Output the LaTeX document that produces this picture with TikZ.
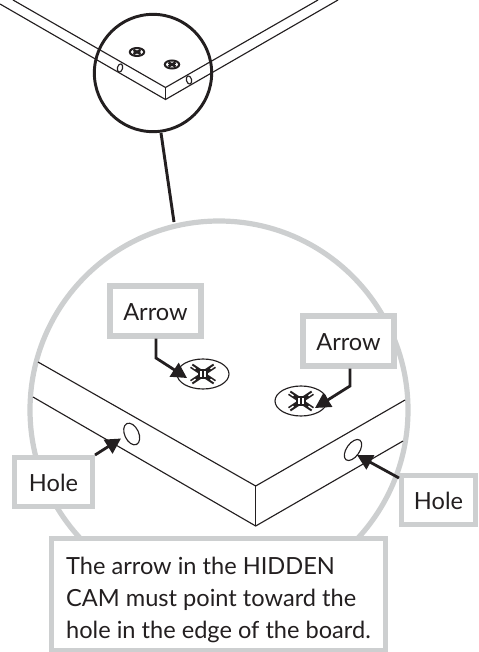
\documentclass[tikz,border=0pt]{standalone}
\usepackage{fontspec}
\setmainfont{Lato}
\usetikzlibrary{arrows.meta}
\definecolor{framegray}{HTML}{CDCFD0}
\definecolor{inkblack}{HTML}{231F20}
\tikzset{
  x=0.75pt,y=-0.75pt,
  boardline/.style={draw=inkblack,line width=0.85pt},
  labelbox/.style={draw=framegray,fill=white,line width=3.9pt,inner sep=0pt,text=inkblack,font=\fontsize{17.7}{24}\selectfont},
  shortlabel/.style={labelbox,text height=15pt},
  leader/.style={draw=inkblack,line width=2.1pt,-{Triangle[length=11.5pt,width=12pt]}},
  screw/.pic={
    \draw[boardline,fill=white] (0,0) ellipse (26 and 15);
    \foreach \sx in {-1,1}\foreach \sy in {-1,1}{
      \draw[inkblack,line width=3.8pt] (\sx*3,\sy*2.5) -- (\sx*11.5,\sy*8.2);
      \draw[white,line width=1pt] (\sx*7.5,\sy*5.2) -- (\sx*14,\sy*9.6);
    }
    \fill[inkblack] (-4.6,-4.6) rectangle (4.6,4.6);
    \fill[white] (-3,-3) rectangle (3,3);
    \draw[inkblack,line width=0.9pt] (0,-3) -- (0,3);
  },
  smallscrew/.pic={
    \draw[inkblack,line width=1.5pt,fill=white] (0,0) ellipse (7.2 and 4);
    \draw[inkblack,line width=1.9pt] (-3.5,-2) -- (3.5,2) (-3.5,2) -- (3.5,-2);
  }
}
\begin{document}
\begin{tikzpicture}
\useasboundingbox (0,0) rectangle (478,652);
% overview board
\draw[boardline] (13,0) -- (165.5,87.5) -- (318,0);
\draw[boardline] (0,4) -- (165.5,99.5) -- (338,0);
\draw[boardline] (165.5,87.5) -- (165.5,99.5);
\draw[boardline] (120,68) ellipse[x radius=2.6,y radius=4.2,rotate=-15];
\draw[boardline] (189,80) ellipse[x radius=2.6,y radius=4.2,rotate=15];
\pic at (137,52) {smallscrew};
\pic at (172,64.5) {smallscrew};
% detail circles
\node[circle,draw=inkblack,line width=2.2pt,minimum size=88pt,inner sep=0pt] (lens) at (153,73) {};
\coordinate (bigtop) at (174,222);
\draw[draw=framegray,line width=3.9pt] (219,410) circle (189);
\draw[inkblack,line width=2.2pt] (161,133) -- (bigtop);
% enlarged board
\draw[boardline] (38,362) -- (255.7,486) -- (405,400);
\draw[boardline] (33,397) -- (255.7,526) -- (403,441);
\draw[boardline] (255.7,486) -- (255.7,526);
\draw[boardline] (131.7,434) ellipse[x radius=7,y radius=11.5,rotate=25];
\draw[boardline] (353,450) ellipse[x radius=6.5,y radius=12,rotate=-35];
\pic at (203,374) {screw};
\pic at (301,401) {screw};
% labels
\node[shortlabel,minimum width=68.25pt,minimum height=37.5pt] (arrowa) at (155.5,311) {Arrow};
\node[shortlabel,minimum width=68.25pt,minimum height=37.5pt] (arrowb) at (348.5,341) {Arrow};
\node[shortlabel,minimum width=58.5pt,minimum height=36.5pt] (holea) at (53.5,482) {Hole};
\node[shortlabel,minimum width=55.5pt,minimum height=36.5pt] (holeb) at (438.5,500) {Hole};
\node[labelbox,minimum width=250.5pt,minimum height=83.5pt,align=left] (note) at (218.5,594.5) {\rule{0pt}{21.5pt}The arrow in the HIDDEN\\CAM must point toward the\\hole in the edge of the board.};
% leaders
\coordinate (tipa) at (187,378);
\coordinate (tipb) at (315,408);
\coordinate (tiphla) at (121,438.5);
\coordinate (tiphlb) at (357,455);
\coordinate (benda) at (156,358);
\coordinate (bendb) at (350,386);
\coordinate (holeastart) at (95,455);
\coordinate (holebstart) at (399,478);
\draw[leader] (arrowa.south) ++(0.5,0) -- (benda) -- (tipa);
\draw[leader] (arrowb.south) ++(1.5,0) -- (bendb) -- (tipb);
\draw[leader] (holeastart) -- (tiphla);
\draw[leader] (holebstart) -- (tiphlb);
\end{tikzpicture}
\end{document}
